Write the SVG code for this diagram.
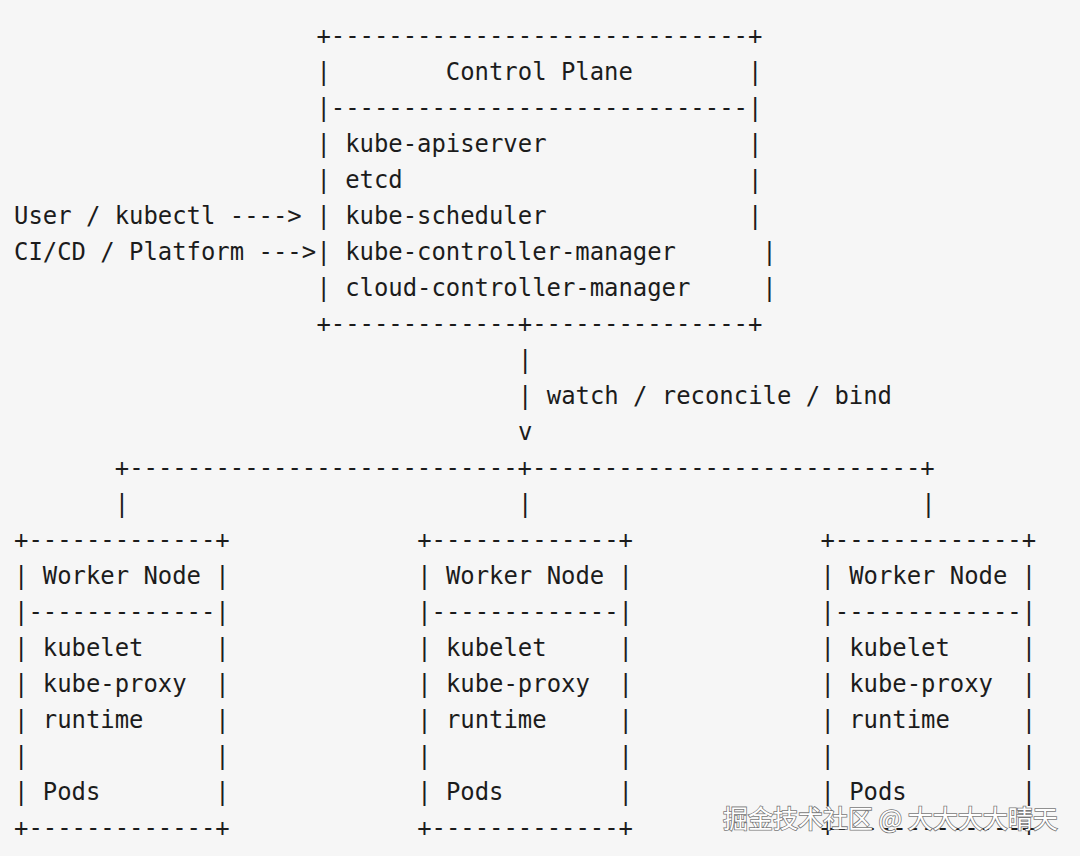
<svg xmlns="http://www.w3.org/2000/svg" width="1080" height="856" viewBox="0 0 1080 856" xml:space="preserve">
<style>
.t text{font-family:"DejaVu Sans Mono","Liberation Mono",monospace;font-size:23.9px;fill:#1c1c1c;white-space:pre}
.wm text{font-family:"Noto Sans CJK SC","Noto Sans",sans-serif;font-size:25px}
</style>
<rect width="1080" height="856" fill="#f6f6f6"/>
<g id="control-plane" class="t">
<text x="316.4" y="44">+-----------------------------+</text>
<text x="316.4" y="80">|        Control Plane        |</text>
<text x="316.4" y="116">|-----------------------------|</text>
<text x="316.4" y="152">| kube-apiserver              |</text>
<text x="316.4" y="188">| etcd                        |</text>
<text x="316.4" y="224">| kube-scheduler              |</text>
<text x="316.4" y="260">| kube-controller-manager      |</text>
<text x="316.4" y="296">| cloud-controller-manager     |</text>
<text x="316.4" y="332">+-------------+---------------+</text>
</g>
<g id="clients" class="t">
<text x="14" y="224">User / kubectl ----></text>
<text x="14" y="260">CI/CD / Platform ---></text>
</g>
<g id="connectors" class="t">
<text x="518" y="368">|</text>
<text x="518" y="404">| watch / reconcile / bind</text>
<text x="518" y="440">v</text>
<text x="114.8" y="476">+---------------------------+---------------------------+</text>
<text x="114.8" y="512">|</text>
<text x="518" y="512">|</text>
<text x="921.2" y="512">|</text>
</g>
<g id="worker-1" class="t">
<text x="14" y="548">+-------------+</text>
<text x="14" y="584">| Worker Node |</text>
<text x="14" y="620">|-------------|</text>
<text x="14" y="656">| kubelet     |</text>
<text x="14" y="692">| kube-proxy  |</text>
<text x="14" y="728">| runtime     |</text>
<text x="14" y="764">|             |</text>
<text x="14" y="800">| Pods        |</text>
<text x="14" y="836">+-------------+</text>
</g>
<g id="worker-2" class="t">
<text x="417.2" y="548">+-------------+</text>
<text x="417.2" y="584">| Worker Node |</text>
<text x="417.2" y="620">|-------------|</text>
<text x="417.2" y="656">| kubelet     |</text>
<text x="417.2" y="692">| kube-proxy  |</text>
<text x="417.2" y="728">| runtime     |</text>
<text x="417.2" y="764">|             |</text>
<text x="417.2" y="800">| Pods        |</text>
<text x="417.2" y="836">+-------------+</text>
</g>
<g id="worker-3" class="t">
<text x="820.4" y="548">+-------------+</text>
<text x="820.4" y="584">| Worker Node |</text>
<text x="820.4" y="620">|-------------|</text>
<text x="820.4" y="656">| kubelet     |</text>
<text x="820.4" y="692">| kube-proxy  |</text>
<text x="820.4" y="728">| runtime     |</text>
<text x="820.4" y="764">|             |</text>
<text x="820.4" y="800">| Pods        |</text>
<text x="820.4" y="836">+-------------+</text>
</g>
<g id="watermark" class="wm">
<text x="723" y="828" fill="none" stroke="#444" stroke-width="1.6" opacity="0.7">掘金技术社区 @ 大大大大晴天</text>
<text x="723" y="828" fill="#ffffff">掘金技术社区 @ 大大大大晴天</text>
</g>
</svg>
